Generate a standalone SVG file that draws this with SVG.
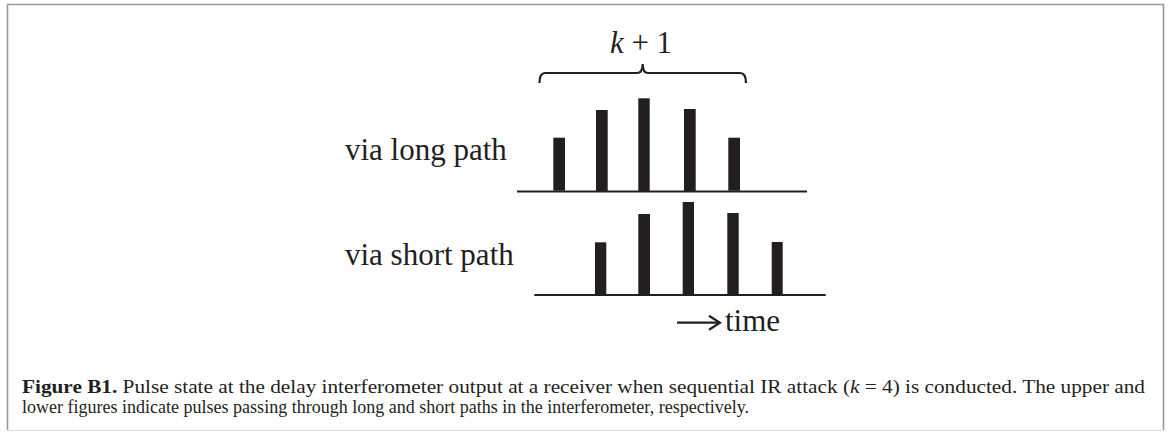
<svg xmlns="http://www.w3.org/2000/svg" width="1170" height="432" viewBox="0 0 1170 432">
<defs>
<style>
.bar{fill:#231f20}
.base{stroke:#231f20;stroke-width:2.2;fill:none}
.lbl{font-family:"Liberation Serif","Times New Roman",serif;font-size:31px;fill:#231f20}
.cap{font-family:"Liberation Serif","Times New Roman",serif;font-size:19.5px;fill:#231f20}
</style>
<marker id="chev" markerWidth="14" markerHeight="16" refX="12" refY="8" orient="auto" markerUnits="userSpaceOnUse">
<path d="M1,1 L12,8 L1,15" fill="none" stroke="#231f20" stroke-width="2.2"/>
</marker>
</defs>
<rect width="1170" height="432" fill="#fff"/>
<path d="M7.5,430 L7.5,4.5 L1163.5,4.5 L1163.5,430" fill="none" stroke="#999" stroke-width="1.6"/>
<line x1="7.5" y1="430.5" x2="1163.5" y2="430.5" stroke="#ddd" stroke-width="1.2"/>

<g id="brace">
<path class="base" d="M539.5,83 Q539.5,73 545,73 L637,73 Q642.7,73 642.7,64 Q642.7,73 648,73 L740,73 Q746,73 746,83"/>
<text class="lbl" x="641" y="53" text-anchor="middle" font-size="30"><tspan font-style="italic">k</tspan> + 1</text>
</g>

<g id="long-path">
<text class="lbl" x="345" y="160">via long path</text>
<line class="base" x1="517" y1="191.5" x2="807" y2="191.5"/>
<rect class="bar" x="553.3" y="137.7" width="11.7" height="53"/>
<rect class="bar" x="596" y="110" width="11.7" height="81"/>
<rect class="bar" x="638.3" y="98.3" width="11.4" height="93"/>
<rect class="bar" x="684" y="109" width="11.7" height="82"/>
<rect class="bar" x="728.3" y="137.7" width="11.7" height="53"/>
</g>

<g id="short-path">
<text class="lbl" x="345" y="265">via short path</text>
<line class="base" x1="534.3" y1="295" x2="825.7" y2="295"/>
<rect class="bar" x="595" y="242.3" width="11.3" height="52"/>
<rect class="bar" x="638.3" y="214" width="11.7" height="80"/>
<rect class="bar" x="682.7" y="202" width="11.3" height="92"/>
<rect class="bar" x="727.3" y="213" width="11.4" height="81"/>
<rect class="bar" x="771.7" y="242" width="11" height="52"/>
</g>

<g id="connectors">
<line class="base" x1="677" y1="322.7" x2="720" y2="322.7" marker-end="url(#chev)"/>
</g>
<g id="time-label">
<text class="lbl" x="725" y="331">time</text>
</g>

<g id="caption">
<text class="cap" x="22" y="393" textLength="1123" lengthAdjust="spacingAndGlyphs"><tspan font-weight="bold">Figure B1.</tspan> Pulse state at the delay interferometer output at a receiver when sequential IR attack (<tspan font-style="italic">k</tspan> = 4) is conducted. The upper and</text>
<text class="cap" x="22" y="413" font-size="18.5" textLength="727" lengthAdjust="spacingAndGlyphs">lower figures indicate pulses passing through long and short paths in the interferometer, respectively.</text>
</g>
</svg>
